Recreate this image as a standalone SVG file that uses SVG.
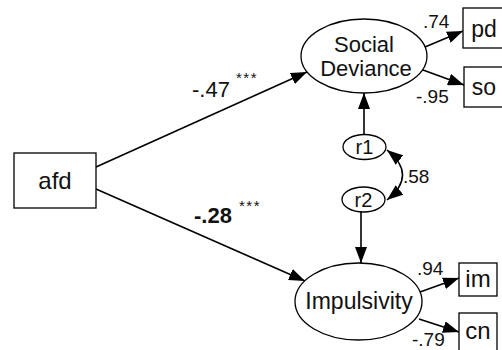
<svg xmlns="http://www.w3.org/2000/svg" width="502" height="350" viewBox="0 0 502 350">
<defs>
<style>
.box{fill:#fff;stroke:#000;stroke-width:1.3}
.lat{fill:#fff;stroke:#000;stroke-width:1.3}
.edge{fill:none;stroke:#000;stroke-width:1.6}
.lbl{font-family:"Liberation Sans",Arial,sans-serif;font-size:23px;fill:#111;text-anchor:middle}
.num{font-family:"Liberation Sans",Arial,sans-serif;font-size:22px;fill:#111}
.sm{font-family:"Liberation Sans",Arial,sans-serif;font-size:19px;fill:#111}
.star{font-family:"Liberation Sans",Arial,sans-serif;font-size:15px;fill:#111;letter-spacing:1.5px}
</style>
<marker id="ah" viewBox="0 0 16 12" refX="16" refY="6" markerWidth="16" markerHeight="12" markerUnits="userSpaceOnUse" orient="auto-start-reverse">
<path d="M0,0 L16,6 L0,12 Z" fill="#000"/>
</marker>
</defs>
<g id="connectors">
<line class="edge" x1="96" y1="167" x2="307" y2="72" marker-end="url(#ah)"/>
<line class="edge" x1="96" y1="189" x2="305" y2="281" marker-end="url(#ah)"/>
<line class="edge" x1="364" y1="134" x2="364" y2="93" marker-end="url(#ah)"/>
<line class="edge" x1="361" y1="212" x2="361" y2="263" marker-end="url(#ah)"/>
<line class="edge" x1="425" y1="47" x2="463" y2="31" marker-end="url(#ah)"/>
<line class="edge" x1="423" y1="70" x2="464" y2="85" marker-end="url(#ah)"/>
<line class="edge" x1="420" y1="292" x2="459" y2="278" marker-end="url(#ah)"/>
<line class="edge" x1="419" y1="319" x2="459" y2="332" marker-end="url(#ah)"/>
<path class="edge" d="M387,150 Q418,175 387,200" marker-start="url(#ah)" marker-end="url(#ah)"/>
</g>
<g id="afd"><rect class="box" x="14" y="153" width="82" height="55"/><text class="lbl" x="55" y="189" style="font-size:24px">afd</text></g>
<g id="social_deviance"><ellipse class="lat" cx="364" cy="56" rx="63" ry="37"/><text class="lbl" x="364" y="52" style="font-size:22px">Social</text><text class="lbl" x="366" y="76" style="font-size:22px">Deviance</text></g>
<g id="impulsivity"><ellipse class="lat" cx="358.5" cy="301.5" rx="63.5" ry="38.5"/><text class="lbl" x="359" y="309">Impulsivity</text></g>
<g id="r1"><ellipse class="lat" cx="364.5" cy="147" rx="21.5" ry="12.5"/><text class="lbl" x="364.5" y="154" style="font-size:20px">r1</text></g>
<g id="r2"><ellipse class="lat" cx="363.5" cy="199.5" rx="21.5" ry="12.5"/><text class="lbl" x="363.5" y="206.5" style="font-size:20px">r2</text></g>
<g id="pd"><rect class="box" x="463" y="8" width="50" height="40"/><text class="lbl" x="484" y="37">pd</text></g>
<g id="so"><rect class="box" x="464" y="67" width="50" height="40"/><text class="lbl" x="484" y="95">so</text></g>
<g id="im"><rect class="box" x="459" y="263" width="38" height="33"/><text class="lbl" x="478" y="287" style="font-size:24px">im</text></g>
<g id="cn"><rect class="box" x="459" y="313" width="38" height="45"/><text class="lbl" x="478" y="339" style="font-size:24px">cn</text></g>
<g id="labels">
<text class="num" x="192" y="97">-.47</text>
<text class="star" x="236" y="83">***</text>
<text class="num" x="194" y="223" style="font-weight:bold">-.28</text>
<text class="star" x="239" y="211">***</text>
<text class="sm" x="423" y="28">.74</text>
<text class="sm" x="416" y="103">-.95</text>
<text class="sm" x="403" y="183">.58</text>
<text class="sm" x="417" y="275">.94</text>
<text class="sm" x="412" y="346">-.79</text>
</g>
</svg>
